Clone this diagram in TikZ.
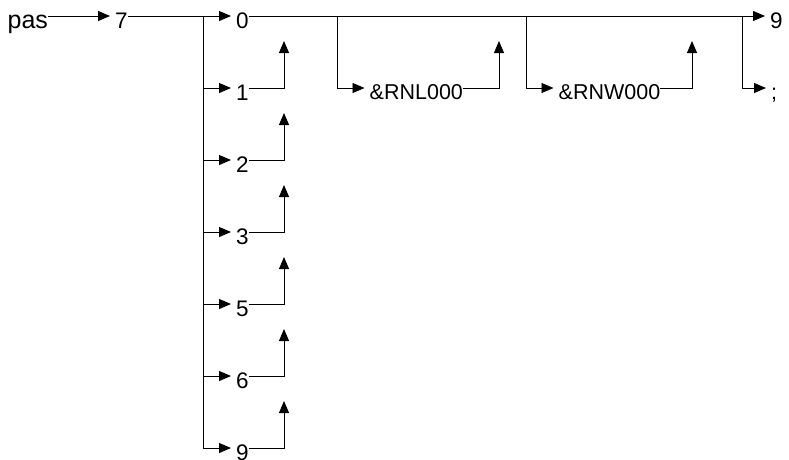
\documentclass[tikz,border=0pt]{standalone}
\usepackage{fontspec}
\setmainfont{Liberation Sans}
\usetikzlibrary{arrows.meta}

\begin{document}
\begin{tikzpicture}[x=1pt,y=-1pt,>={Triangle[length=12pt,width=10pt]},
  word/.style={anchor=west,inner sep=0pt,text height=23pt,text depth=0pt,
    font=\fontsize{21.5}{24}\selectfont},
  digit/.style={word,text height=24pt,font=\fontsize{22.5}{26}\selectfont},
  head/.style={word,text height=24.6pt,font=\fontsize{25}{28}\selectfont},
  flow/.style={line width=0.8pt},
  into/.style={flow,->,shorten >=5pt},
  rise/.style={flow,->}]
\useasboundingbox (0,0) rectangle (789,459);
% top row
\node[head] (pas) at (7.5,16) {pas};
\node[digit] (seven) at (115,16) {7};
\node[digit] (d0) at (236,16) {0};
\node[digit] (nine) at (770,16) {9};
\coordinate (fork) at (203,16);
\coordinate (b1) at (337,16);
\coordinate (b2) at (526,16);
\coordinate (b3) at (742,16);
\draw[into] (pas) -- (seven);
\draw[into] (seven) -- (d0);
\draw[into] (d0) -- (nine);
% digit choices
\draw[flow] (fork) -- (203,448);
\foreach \d [count=\i] in {1,2,3,5,6,9} {
  \node[digit] (d\i) at (236,{16+72*\i}) {\d};
  \draw[into] (fork |- d\i) -- (d\i);
  \draw[rise] (d\i) -| (284,{16+72*(\i-1)+25});
}
% optional parts
\node[word] (rnl) at (369.5,88) {\&RNL000};
\node[word] (rnw) at (558.5,88) {\&RNW000};
\node[word] (semi) at (771,88) {;};
\draw[into] (b1) |- (rnl);
\draw[rise] (rnl) -| (499,41);
\draw[into] (b2) |- (rnw);
\draw[rise] (rnw) -| (692,41);
\draw[into] (b3) |- (semi);
\end{tikzpicture}
\end{document}
